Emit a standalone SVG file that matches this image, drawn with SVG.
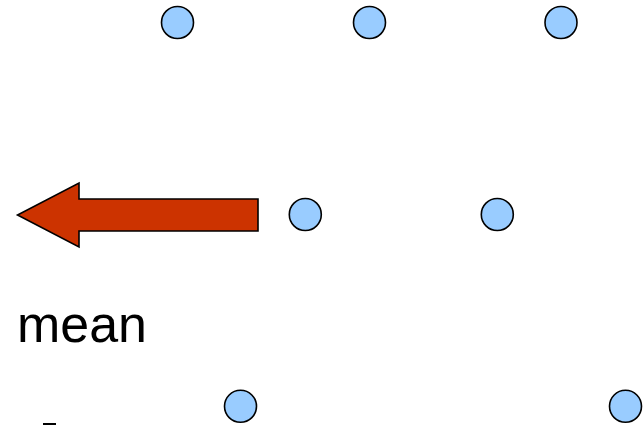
<svg xmlns="http://www.w3.org/2000/svg" width="643" height="425" viewBox="0 0 643 425">
<style>
.dot{fill:#99ccff;stroke:#000;stroke-width:1.6}
.arrow{fill:#cc3300;stroke:#000;stroke-width:1.6;stroke-linejoin:miter}
.lbl{font-family:"Liberation Sans","DejaVu Sans",sans-serif;font-size:52px;fill:#000}
</style>
<rect width="643" height="425" fill="#fff"/>
<g id="dots">
<g id="d1"><circle class="dot" cx="177.5" cy="22.5" r="16"/></g>
<g id="d2"><circle class="dot" cx="369.5" cy="22.5" r="16"/></g>
<g id="d3"><circle class="dot" cx="561" cy="22.5" r="16"/></g>
<g id="d4"><circle class="dot" cx="305.3" cy="214.5" r="16"/></g>
<g id="d5"><circle class="dot" cx="497.3" cy="214.5" r="16"/></g>
<g id="d6"><circle class="dot" cx="240.5" cy="406.3" r="16"/></g>
<g id="d7"><circle class="dot" cx="625.5" cy="406.3" r="16"/></g>
</g>
<g id="connectors">
<path class="arrow" d="M258,199 L79,199 L79,183 L17.5,215 L79,247 L79,231 L258,231 Z"/>
</g>
<g id="label-mean">
<text class="lbl" x="17" y="342" textLength="130" lengthAdjust="spacingAndGlyphs">mean</text>
</g>
<rect x="43" y="423" width="13" height="2" fill="#000"/>
</svg>
